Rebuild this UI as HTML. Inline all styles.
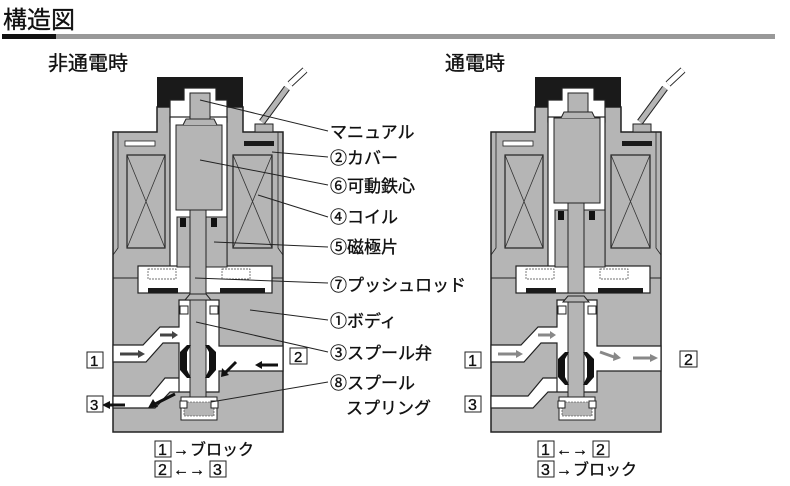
<!DOCTYPE html>
<html><head><meta charset="utf-8"><style>
body{margin:0;background:#fff;width:790px;height:486px;overflow:hidden}
svg{display:block}
text{font-family:"Liberation Sans","Noto Sans CJK JP",sans-serif;fill:#111;stroke:#111;stroke-width:0.35}
</style></head><body>
<svg width="790" height="486" viewBox="0 0 790 486" xmlns="http://www.w3.org/2000/svg">
<defs>
<g id="valve">
  <path d="M157,107 L243,107 L243,132 L283,132 L283,432 L113,432 L113,132 L157,132 Z" fill="#b5b5b5" stroke="#222" stroke-width="1.5"/>
  <rect x="157" y="77" width="86" height="30" fill="#1a1a1a"/>
  <rect x="127" y="155" width="38" height="93" fill="#b5b5b5" stroke="#222" stroke-width="1.2"/>
  <path d="M127,155 L165,248 M165,155 L127,248" stroke="#333" stroke-width="0.8"/>
  <rect x="233" y="155" width="39" height="93" fill="#b5b5b5" stroke="#222" stroke-width="1.2"/>
  <path d="M233,155 L272,248 M272,155 L233,248" stroke="#333" stroke-width="0.8"/>
  <rect x="125" y="141" width="30" height="5" fill="#fff" stroke="#222" stroke-width="0.8"/>
  <rect x="244" y="141" width="30" height="5" fill="#1a1a1a"/>
  <path d="M118,132 L118,248 L113,255" stroke="#222" fill="none" stroke-width="0.8"/>
  <path d="M278,132 L278,248 L283,255" stroke="#222" fill="none" stroke-width="0.8"/>
  <path d="M113,278 L180,278 M220,278 L283,278" stroke="#222" stroke-width="1"/>
  <path d="M184,88 L216,88 L216,100 L227,100 L227,122 L170,122 L170,100 L184,100 Z" fill="#fff" stroke="#222" stroke-width="1.2"/>
  <rect x="170" y="117" width="57" height="152" fill="#fff" stroke="#222" stroke-width="1.2"/>
  <rect x="190" y="93" width="20" height="30" fill="#b5b5b5" stroke="#222" stroke-width="1"/>
  <rect x="138" y="266" width="134" height="27" fill="#fff" stroke="#222" stroke-width="1.2"/>
  <rect x="148" y="288" width="30" height="5" fill="#1a1a1a"/>
  <rect x="220" y="288" width="45" height="5" fill="#1a1a1a"/>
  <rect x="148" y="269" width="28" height="10" fill="none" stroke="#444" stroke-width="0.7" stroke-dasharray="2,1"/>
  <rect x="222" y="269" width="28" height="10" fill="none" stroke="#444" stroke-width="0.7" stroke-dasharray="2,1"/>
  <path d="M113,345 L143,345 L160,327 L179,327 L179,300 L219,300 L219,346 L283,346 L283,371 L219,371 L219,392 L179,392 L179,378 L165,378 L150,396 L113,396 L113,408 L155,408 L170,392 L179,392 L179,343 L163,343 L146,362 L113,362 Z" fill="#fff" stroke="#222" stroke-width="1.2"/>
  <rect x="181" y="397" width="36" height="23" fill="#fff" stroke="#222" stroke-width="1"/>
  <rect x="184" y="402" width="30" height="14" fill="#b5b5b5" stroke="#333" stroke-width="0.6" stroke-dasharray="2,1"/>
  <rect x="180" y="306" width="8" height="8" fill="#fff" stroke="#222"/>
  <rect x="210" y="306" width="8" height="8" fill="#fff" stroke="#222"/>
  <rect x="180" y="401" width="7" height="7" fill="#fff" stroke="#222"/>
  <rect x="211" y="401" width="7" height="7" fill="#fff" stroke="#222"/>
</g>
</defs>

<text x="3" y="28" font-size="24">構造図</text>
<rect x="2" y="34" width="54" height="5" fill="#111"/>
<rect x="56" y="34" width="719" height="5" fill="#999"/>
<text x="48" y="70" font-size="20">非通電時</text>
<text x="445" y="70" font-size="20">通電時</text>

<use href="#valve"/>
<g>
  <rect x="176" y="125" width="46" height="85" fill="#b5b5b5" stroke="#222"/>
  <path d="M183,125 L186,119 L214,119 L217,125" fill="#b5b5b5" stroke="#222"/>
  <rect x="177" y="217" width="13" height="50" fill="#b5b5b5" stroke="#222"/>
  <rect x="206" y="217" width="21" height="50" fill="#b5b5b5" stroke="#222"/>
  <rect x="180" y="218" width="6" height="9" fill="#111"/><rect x="211" y="218" width="6" height="9" fill="#111"/>
  <rect x="190" y="210" width="16" height="88" fill="#b5b5b5" stroke="#222"/>
  <path d="M185,300 L190,294 L206,294 L211,300 Z" fill="#b5b5b5" stroke="#222"/>
  <rect x="190" y="300" width="16" height="97" fill="#b5b5b5" stroke="#222"/>
  <path d="M187,345 L180,352 L180,370 L187,378 L191,378 L187,370 L187,352 L191,345 Z" fill="#111"/>
  <path d="M209,345 L216,352 L216,370 L209,378 L205,378 L209,370 L209,352 L205,345 Z" fill="#111"/>
  <path d="M262,122 L287,88" stroke="#222" stroke-width="7"/><path d="M262,122 L287,88" stroke="#b5b5b5" stroke-width="5"/>
  <path d="M290,84 L305,70" stroke="#222" stroke-width="7"/><path d="M290,84 L305,70" stroke="#fff" stroke-width="5"/>
  <rect x="255" y="124" width="18" height="8" fill="#b5b5b5" stroke="#222"/>
  <path d="M120,354 L138,354" stroke="#444" stroke-width="3"/><path d="M138,350 L145,354 L138,358 Z" fill="#444"/>
  <path d="M160,335 L172,335" stroke="#444" stroke-width="3"/><path d="M172,331 L178,335 L172,339 Z" fill="#444"/>
  <path d="M278,365 L262,365" stroke="#111" stroke-width="3"/><path d="M262,361 L255,365 L262,369 Z" fill="#111"/>
  <path d="M236,362 L225,373" stroke="#111" stroke-width="3"/><path d="M222,368 L221,377 L229,375 Z" fill="#111"/>
  <path d="M175,394 L155,404" stroke="#111" stroke-width="3"/><path d="M148,408 L153,399 L158,407 Z" fill="#111"/>
  <path d="M125,405 L110,405" stroke="#111" stroke-width="3"/><path d="M110,401 L102,405 L110,409 Z" fill="#111"/>
</g>
<g font-size="15">
<rect x="87" y="352" width="16" height="16" fill="#fff" stroke="#222"/><text x="90" y="366">1</text>
<rect x="87" y="396" width="16" height="16" fill="#fff" stroke="#222"/><text x="90" y="410">3</text>
<rect x="290" y="348" width="17" height="16" fill="#fff" stroke="#222"/><text x="294" y="362">2</text>
</g>
<g stroke="#222" stroke-width="1" fill="none">
<path d="M200,100 L328,131"/><path d="M272,152 L328,157"/><path d="M200,160 L328,185"/>
<path d="M258,195 L328,217"/><path d="M214,242 L328,247"/><path d="M195,278 L328,283"/>
<path d="M250,310 L328,320"/><path d="M196,322 L328,352"/><path d="M211,402 L328,382"/>
</g>
<g font-size="17">
<text x="330" y="138">マニュアル</text>
<text x="330" y="164">②カバー</text>
<text x="330" y="192">⑥可動鉄心</text>
<text x="330" y="223">④コイル</text>
<text x="330" y="253">⑤磁極片</text>
<text x="330" y="291">⑦プッシュロッド</text>
<text x="330" y="327">①ボディ</text>
<text x="330" y="359">③スプール弁</text>
<text x="330" y="389">⑧スプール</text>
<text x="346" y="414">スプリング</text>
</g>
<g font-size="16">
<rect x="155" y="441" width="16" height="16" fill="#fff" stroke="#222"/><text x="158" y="455">1</text>
<text x="173" y="455" font-family="DejaVu Sans, sans-serif">→</text><text x="190" y="455">ブロック</text>
<rect x="155" y="461" width="16" height="16" fill="#fff" stroke="#222"/><text x="158" y="475">2</text>
<text x="173" y="475" font-family="DejaVu Sans, sans-serif">←→</text>
<rect x="210" y="461" width="16" height="16" fill="#fff" stroke="#222"/><text x="213" y="475">3</text>
</g>

<g transform="translate(378,0)">
<use href="#valve"/>
  <rect x="176" y="118" width="46" height="85" fill="#b5b5b5" stroke="#222"/>
  <path d="M183,118 L186,112 L214,112 L217,118" fill="#b5b5b5" stroke="#222"/>
  <rect x="177" y="210" width="13" height="57" fill="#b5b5b5" stroke="#222"/>
  <rect x="206" y="210" width="21" height="57" fill="#b5b5b5" stroke="#222"/>
  <rect x="180" y="211" width="6" height="9" fill="#111"/><rect x="211" y="211" width="6" height="9" fill="#111"/>
  <rect x="190" y="203" width="16" height="90" fill="#b5b5b5" stroke="#222"/>
  <path d="M185,302 L190,296 L206,296 L211,302 Z" fill="#b5b5b5" stroke="#222"/>
  <rect x="190" y="302" width="16" height="95" fill="#b5b5b5" stroke="#222"/>
  <path d="M187,352 L180,359 L180,377 L187,385 L191,385 L187,377 L187,359 L191,352 Z" fill="#111"/>
  <path d="M209,352 L216,359 L216,377 L209,385 L205,385 L209,377 L209,359 L205,352 Z" fill="#111"/>
  <path d="M262,122 L287,88" stroke="#222" stroke-width="7"/><path d="M262,122 L287,88" stroke="#b5b5b5" stroke-width="5"/>
  <path d="M290,84 L305,70" stroke="#222" stroke-width="7"/><path d="M290,84 L305,70" stroke="#fff" stroke-width="5"/>
  <rect x="255" y="124" width="18" height="8" fill="#b5b5b5" stroke="#222"/>
  <path d="M120,354 L138,354" stroke="#888" stroke-width="3"/><path d="M138,350 L145,354 L138,358 Z" fill="#888"/>
  <path d="M160,335 L172,335" stroke="#888" stroke-width="3"/><path d="M172,331 L178,335 L172,339 Z" fill="#888"/>
  <path d="M222,352 L236,357" stroke="#888" stroke-width="3"/><path d="M236,352 L243,358 L235,361 Z" fill="#888"/>
  <path d="M255,358 L272,358" stroke="#888" stroke-width="3"/><path d="M272,354 L280,358 L272,362 Z" fill="#888"/>
</g>
<g font-size="16">
<rect x="465" y="352" width="16" height="16" fill="#fff" stroke="#222"/><text x="468" y="366">1</text>
<rect x="465" y="396" width="16" height="16" fill="#fff" stroke="#222"/><text x="468" y="410">3</text>
<rect x="680" y="351" width="17" height="16" fill="#fff" stroke="#222"/><text x="684" y="365">2</text>
<rect x="538" y="441" width="16" height="16" fill="#fff" stroke="#222"/><text x="541" y="455">1</text>
<text x="556" y="455" font-family="DejaVu Sans, sans-serif">←→</text>
<rect x="593" y="441" width="16" height="16" fill="#fff" stroke="#222"/><text x="596" y="455">2</text>
<rect x="538" y="461" width="16" height="16" fill="#fff" stroke="#222"/><text x="541" y="475">3</text>
<text x="556" y="475" font-family="DejaVu Sans, sans-serif">→</text><text x="573" y="475">ブロック</text>
</g>
</svg>
</body></html>
